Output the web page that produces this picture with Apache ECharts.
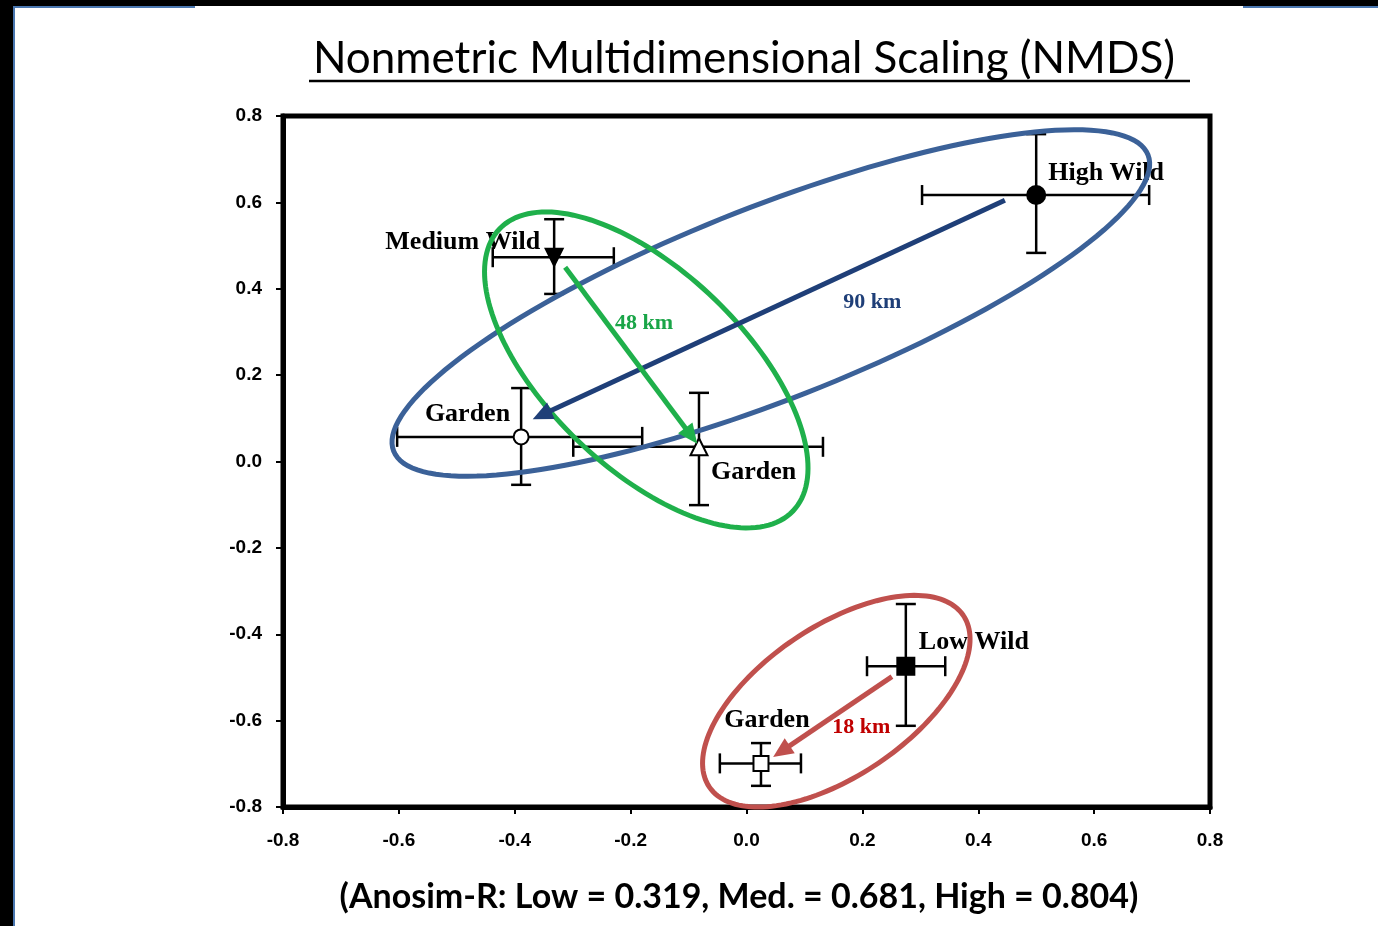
<!DOCTYPE html>
<html>
<head>
<meta charset="utf-8">
<title>NMDS</title>
<script src="https://cdn.jsdelivr.net/npm/echarts@6/dist/echarts.min.js"></script>
<style>
html, body { margin: 0; padding: 0; background: #fff; }
#main { width: 1378px; height: 926px; }
</style>
</head>
<body>
<div id="main"></div>
<script>
// group means and error bar ends (NMDS axis 1 / axis 2)
var groupNames = ['High Wild', 'Garden', 'Medium Wild', 'Garden', 'Low Wild', 'Garden'];
var xMean = [0.500, -0.389, -0.332, -0.082, 0.275, 0.025];
var yMean = [0.617, 0.057, 0.473, 0.034, -0.474, -0.699];
var xLow = [0.303, -0.603, -0.438, -0.299, 0.208, -0.046];
var xHigh = [0.695, -0.180, -0.229, 0.132, 0.343, 0.094];
var yLow = [0.483, -0.054, 0.388, -0.101, -0.612, -0.751];
var yHigh = [0.758, 0.170, 0.561, 0.159, -0.330, -0.652];

// arrows wild -> garden, with distance labels
var arrowFrom = [[0.446, 0.605], [-0.313, 0.450], [0.251, -0.498]];
var arrowTo = [[-0.369, 0.098], [-0.085, 0.041], [0.046, -0.684]];
var distText = ['90 km', '48 km', '18 km'];
var distAt = [[0.217, 0.369], [-0.177, 0.321], [0.198, -0.615]];

// ellipses: centre, half major axis, half minor axis (data units)
var ellCentre = [[0.042, 0.367], [-0.173, 0.212], [0.155, -0.555]];
var ellMajor = [[0.651, 0.343], [0.253, -0.327], [0.219, 0.199]];
var ellMinor = [[0.061, -0.208], [-0.118, -0.164], [0.073, -0.143]];

var ticks = [-0.8, -0.6, -0.4, -0.2, 0.0, 0.2, 0.4, 0.6, 0.8];

var blueEll = '#3b6198', greenCol = '#1fb04b', redCol = '#c0504d', blueArrow = '#1f3f78';
var ellColors = [blueEll, greenCol, redCol];
var arrowColors = [blueArrow, greenCol, redCol];
var distColors = ['#1f3f78', '#1aa548', '#c00000'];

var labelPlace = [
    { dx: 12, dy: -22, align: 'left' },
    { dx: -11, dy: -23, align: 'right' },
    { dx: -14, dy: -15, align: 'right' },
    { dx: 12, dy: 25, align: 'left' },
    { dx: 13, dy: -24, align: 'left' },
    { dx: 6, dy: -43, align: 'center' }
];
var markStyle = [
    { symbol: 'circle', size: 18, fill: '#000' },
    { symbol: 'circle', size: 15, fill: '#fff' },
    { symbol: 'triangle', size: 17, fill: '#000', rotate: 180 },
    { symbol: 'triangle', size: 17, fill: '#fff' },
    { symbol: 'rect', size: 17, fill: '#000' },
    { symbol: 'rect', size: 15, fill: '#fff' }
];

var errData = [], markData = [], nameData = [];
for (var i = 0; i < groupNames.length; i++) {
    errData.push([xMean[i], yMean[i], xLow[i], xHigh[i], yLow[i], yHigh[i]]);
    markData.push({
        value: [xMean[i], yMean[i]],
        symbol: markStyle[i].symbol,
        symbolSize: markStyle[i].size,
        symbolRotate: markStyle[i].rotate || 0,
        itemStyle: { color: markStyle[i].fill, borderColor: '#000', borderWidth: 2 }
    });
    nameData.push([xMean[i], yMean[i]]);
}

function renderErr(params, api) {
    var l = api.coord([api.value(2), api.value(1)]);
    var r = api.coord([api.value(3), api.value(1)]);
    var b = api.coord([api.value(0), api.value(4)]);
    var t = api.coord([api.value(0), api.value(5)]);
    var cap = 10;
    var st = { stroke: '#000', lineWidth: 2.5 };
    return {
        type: 'group',
        children: [
            { type: 'line', shape: { x1: l[0], y1: l[1], x2: r[0], y2: r[1] }, style: st },
            { type: 'line', shape: { x1: l[0], y1: l[1] - cap, x2: l[0], y2: l[1] + cap }, style: st },
            { type: 'line', shape: { x1: r[0], y1: r[1] - cap, x2: r[0], y2: r[1] + cap }, style: st },
            { type: 'line', shape: { x1: b[0], y1: b[1], x2: t[0], y2: t[1] }, style: st },
            { type: 'line', shape: { x1: b[0] - cap, y1: b[1], x2: b[0] + cap, y2: b[1] }, style: st },
            { type: 'line', shape: { x1: t[0] - cap, y1: t[1], x2: t[0] + cap, y2: t[1] }, style: st }
        ]
    };
}

function renderName(params, api) {
    var i = params.dataIndex;
    var p = api.coord([api.value(0), api.value(1)]);
    var lp = labelPlace[i];
    return {
        type: 'text',
        x: p[0] + lp.dx,
        y: p[1] + lp.dy,
        style: {
            text: groupNames[i],
            fill: '#000',
            font: 'bold 26px "Liberation Serif", "DejaVu Serif", serif',
            textAlign: lp.align,
            textVerticalAlign: 'middle'
        }
    };
}

function renderEllipse(params, api) {
    var i = params.dataIndex;
    var c = api.coord(ellCentre[i]);
    var a = api.coord([ellCentre[i][0] + ellMajor[i][0], ellCentre[i][1] + ellMajor[i][1]]);
    var b = api.coord([ellCentre[i][0] + ellMinor[i][0], ellCentre[i][1] + ellMinor[i][1]]);
    var ux = a[0] - c[0], uy = a[1] - c[1], vx = b[0] - c[0], vy = b[1] - c[1];
    var pts = [];
    for (var k = 0; k < 160; k++) {
        var t = k / 160 * Math.PI * 2;
        pts.push([c[0] + ux * Math.cos(t) + vx * Math.sin(t), c[1] + uy * Math.cos(t) + vy * Math.sin(t)]);
    }
    return {
        type: 'polygon',
        shape: { points: pts },
        style: { fill: 'none', stroke: ellColors[i], lineWidth: 5 }
    };
}

function renderArrow(params, api) {
    var i = params.dataIndex;
    var s = api.coord(arrowFrom[i]);
    var e = api.coord(arrowTo[i]);
    var dx = e[0] - s[0], dy = e[1] - s[1];
    var len = Math.sqrt(dx * dx + dy * dy);
    var ux = dx / len, uy = dy / len;
    var hl = 20, hw = 9;
    var bx = e[0] - ux * hl, by = e[1] - uy * hl;
    return {
        type: 'group',
        children: [
            { type: 'line', shape: { x1: s[0], y1: s[1], x2: bx + ux * 2, y2: by + uy * 2 },
              style: { stroke: arrowColors[i], lineWidth: 5 } },
            { type: 'polygon',
              shape: { points: [[e[0], e[1]], [bx - uy * hw, by + ux * hw], [bx + uy * hw, by - ux * hw]] },
              style: { fill: arrowColors[i] } }
        ]
    };
}

function renderDist(params, api) {
    var i = params.dataIndex;
    var p = api.coord(distAt[i]);
    return {
        type: 'text',
        x: p[0],
        y: p[1],
        style: {
            text: distText[i],
            fill: distColors[i],
            font: 'bold 22px "Liberation Serif", "DejaVu Serif", serif',
            textAlign: 'center',
            textVerticalAlign: 'middle'
        }
    };
}

var chart = echarts.init(document.getElementById('main'));
var axisLabelStyle = {
    color: '#000',
    fontFamily: '"Liberation Sans", Arial, sans-serif',
    fontWeight: 'bold',
    fontSize: 19,
    formatter: function (v) { return v.toFixed(1); }
};
var option = {
    backgroundColor: '#fff',
    animation: false,
    grid: {
        left: 283, right: 168, top: 116, bottom: 119,
        show: true, borderColor: '#000', borderWidth: 5, backgroundColor: '#fff'
    },
    xAxis: {
        type: 'value', min: ticks[0], max: ticks[ticks.length - 1], interval: 0.2,
        splitLine: { show: false },
        axisLine: { show: true, onZero: false, lineStyle: { color: '#000', width: 5 } },
        axisTick: { show: true, length: 7, lineStyle: { color: '#000', width: 2 } },
        axisLabel: Object.assign({ margin: 24 }, axisLabelStyle)
    },
    yAxis: {
        type: 'value', min: ticks[0], max: ticks[ticks.length - 1], interval: 0.2,
        splitLine: { show: false },
        axisLine: { show: true, onZero: false, lineStyle: { color: '#000', width: 5 } },
        axisTick: { show: true, length: 7, lineStyle: { color: '#000', width: 2 } },
        axisLabel: Object.assign({ margin: 21 }, axisLabelStyle)
    },
    graphic: [
        { type: 'rect', shape: { x: 0, y: 0, width: 13, height: 926 }, style: { fill: '#000' }, z: 100 },
        { type: 'rect', shape: { x: 0, y: 0, width: 1378, height: 6 }, style: { fill: '#000' }, z: 100 },
        { type: 'rect', shape: { x: 13, y: 6, width: 2, height: 920 }, style: { fill: '#4a77b0' }, z: 100 },
        { type: 'rect', shape: { x: 13, y: 6, width: 182, height: 2 }, style: { fill: '#4a77b0' }, z: 100 },
        { type: 'rect', shape: { x: 1243, y: 6, width: 135, height: 2 }, style: { fill: '#4a77b0' }, z: 100 },
        {
            type: 'text', x: 744, y: 59, z: 100,
            style: {
                text: 'Nonmetric Multidimensional Scaling (NMDS)',
                fill: '#000',
                font: '44px Lato, "Open Sans", sans-serif',
                textAlign: 'center', textVerticalAlign: 'middle'
            }
        },
        { type: 'line', shape: { x1: 309, y1: 81, x2: 1190, y2: 81 }, style: { stroke: '#000', lineWidth: 2.5 }, z: 100 },
        {
            type: 'text', x: 739, y: 897, z: 100,
            style: {
                text: '(Anosim-R: Low = 0.319, Med. = 0.681, High = 0.804)',
                fill: '#000',
                font: 'bold 34px Lato, "Open Sans", sans-serif',
                textAlign: 'center', textVerticalAlign: 'middle'
            }
        }
    ],
    series: [
        { type: 'custom', name: 'names', renderItem: renderName, data: nameData, clip: false, z: 2 },
        { type: 'custom', name: 'errors', renderItem: renderErr, data: errData, clip: false, z: 3 },
        {
            type: 'scatter', name: 'groups', data: markData, z: 4,
            itemStyle: { opacity: 1 }
        },
        { type: 'custom', name: 'ellipses', renderItem: renderEllipse, data: ellCentre, clip: false, z: 5 },
        { type: 'custom', name: 'arrows', renderItem: renderArrow, data: arrowFrom, clip: false, z: 6 },
        { type: 'custom', name: 'distance', renderItem: renderDist, data: distAt, clip: false, z: 7 }
    ]
};
chart.setOption(option);
</script>
</body>
</html>
